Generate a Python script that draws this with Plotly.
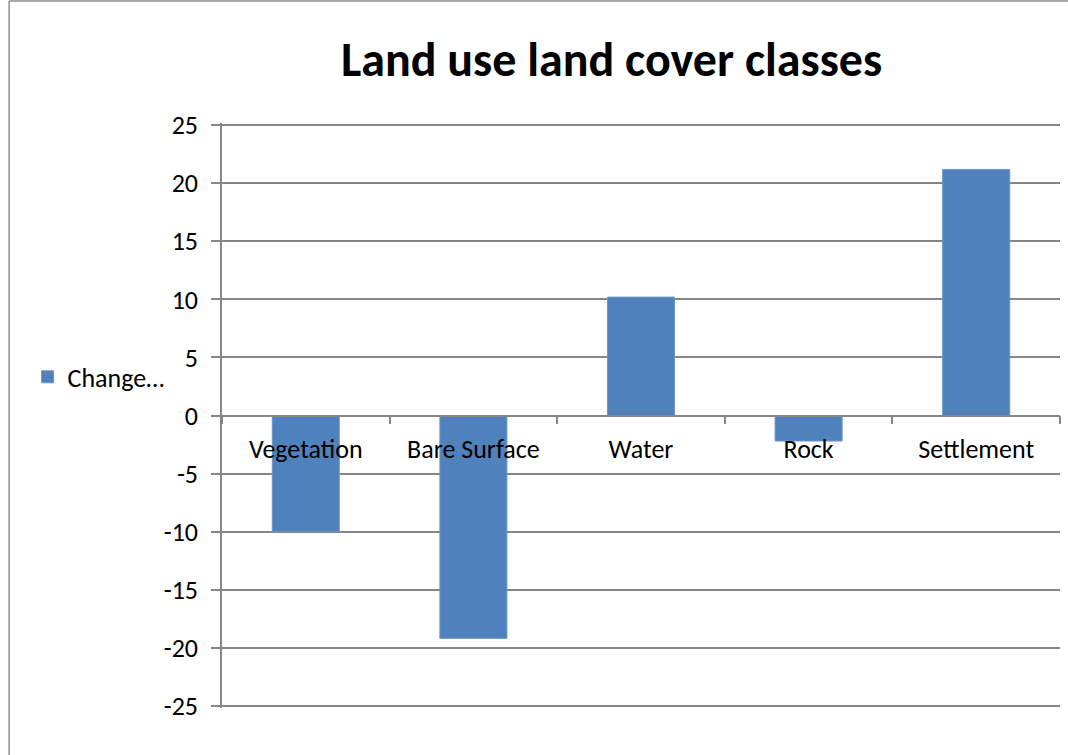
import plotly.graph_objects as go

categories = ["Vegetation", "Bare Surface", "Water", "Rock", "Settlement"]
change_values = [-10.0, -19.2, 10.2, -2.2, 21.2]
series_name = "Change…"
y_ticks = [25, 20, 15, 10, 5, 0, -5, -10, -15, -20, -25]
y_tick_labels = ["25", "20", "15", "10", "5", "0", "-5", "-10", "-15", "-20", "-25"]

FONT = "Calibri, Carlito, Lato, sans-serif"
GRID = "#868686"
BORDER = "#8C8C8C"

fig = go.Figure()
fig.add_trace(go.Bar(
    x=categories, y=change_values, name=series_name,
    marker=dict(color="#4F81BD", line=dict(color="#6A96CC", width=1)),
    showlegend=True,
))

fig.update_layout(
    width=1068, height=755,
    margin=dict(l=222, r=8, t=123, b=47),
    paper_bgcolor="white", plot_bgcolor="white",
    font=dict(family=FONT, size=26, color="black"),
    title=dict(text="<b>Land use land cover classes</b>", x=0.5726, xanchor="center",
               y=0.921, yanchor="middle", yref="container",
               font=dict(family=FONT, size=48, color="black")),
    bargap=0.6,
    showlegend=True,
    legend=dict(x=-0.232, y=0.566, xanchor="left", yanchor="middle",
                font=dict(family=FONT, size=26), bgcolor="rgba(0,0,0,0)"),
    xaxis=dict(type="category", anchor="free", position=0.5,
               showline=True, linecolor=GRID, linewidth=1.5,
               ticks="outside", tickson="boundaries", ticklen=8, tickcolor=GRID, tickwidth=1.5,
               showgrid=False, zeroline=False, tickfont=dict(family=FONT, size=26),
               ticklabelstandoff=11),
    yaxis=dict(range=[-25.2, 25.2], tickvals=y_ticks, ticktext=y_tick_labels,
               showline=True, linecolor=GRID, linewidth=1.5,
               ticks="outside", ticklen=9, tickcolor=GRID, tickwidth=1.5,
               showgrid=True, gridcolor=GRID, gridwidth=1.5, zeroline=False,
               tickfont=dict(family=FONT, size=26), ticklabelstandoff=8),
    shapes=[
        dict(type="line", xref="paper", yref="paper", x0=-0.254, x1=1.05, y0=1.2086, y1=1.2086,
             line=dict(color=BORDER, width=1.5), layer="below"),
        dict(type="line", xref="paper", yref="paper", x0=-0.254, x1=-0.254, y0=-0.3, y1=1.2086,
             line=dict(color=BORDER, width=1.5), layer="below"),
    ],
)

fig.write_html("out.html", config={"displayModeBar": False},
               post_script="document.body.style.margin='0';document.body.style.overflow='hidden';")
